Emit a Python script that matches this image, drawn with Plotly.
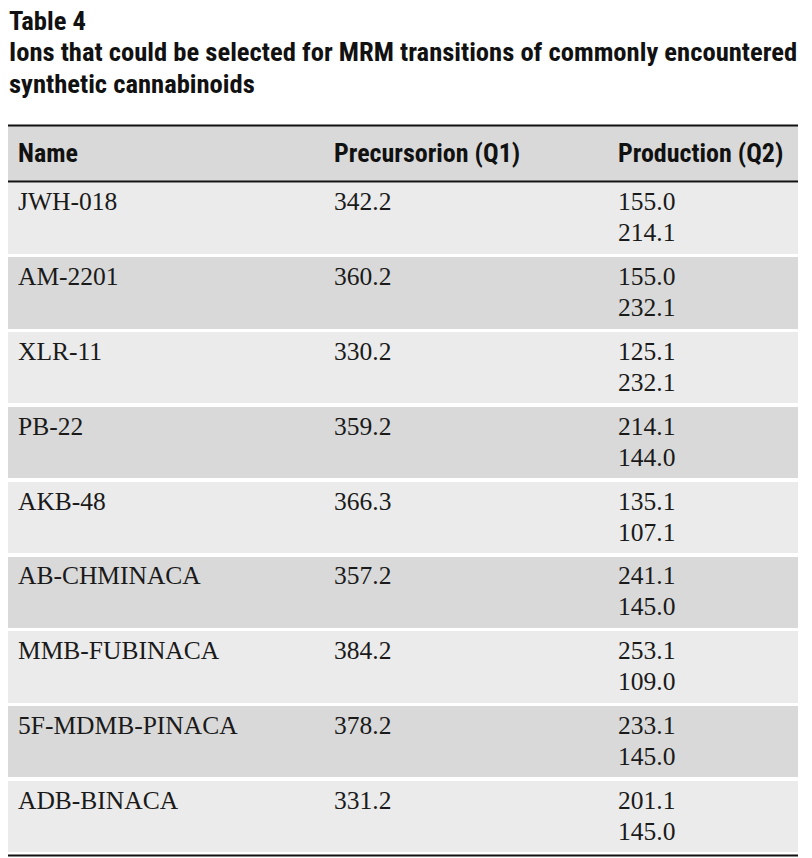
import plotly.graph_objects as go

# Table 4 data
names = ["JWH-018", "AM-2201", "XLR-11", "PB-22", "AKB-48",
         "AB-CHMINACA", "MMB-FUBINACA", "5F-MDMB-PINACA", "ADB-BINACA"]
precursor_q1 = [342.2, 360.2, 330.2, 359.2, 366.3, 357.2, 384.2, 378.2, 331.2]
product_q2_a = [155.0, 155.0, 125.1, 214.1, 135.1, 241.1, 253.1, 233.1, 201.1]
product_q2_b = [214.1, 232.1, 232.1, 144.0, 107.1, 145.0, 109.0, 145.0, 145.0]
headers = ["Name", "Precursorion (Q1)", "Production (Q2)"]
title_lines = ["Table 4",
               "Ions that could be selected for MRM transitions of commonly encountered",
               "synthetic cannabinoids"]

OFF = 8               # page body margin
W, H = 812 - OFF, 858 - OFF
row_top0 = 182.5      # pixel where first body row starts (page coords)
pitch = 74.8          # pixel height of one body row
col_x = [18, 334, 618]
tbl_left, tbl_right = OFF, 798

serif = "Liberation Serif"
narrow = "Roboto Condensed, Roboto, sans-serif"


def px2v(p):
    # page pixel row (from top) -> y axis value (row index units)
    return (p - row_top0) / pitch - 0.5


def px2x(p):
    return p - OFF


rows = list(range(len(names)))
fills = ["#ebebeb" if i % 2 == 0 else "#d9d9d9" for i in rows]

fig = go.Figure()

# row backgrounds
fig.add_trace(go.Bar(
    y=rows, x=[tbl_right - tbl_left] * len(rows), base=px2x(tbl_left),
    orientation="h", width=1 - 3.5 / pitch, offset=-0.5,
    marker=dict(color=fills, line=dict(width=0)),
    hoverinfo="skip", showlegend=False))

first = [i - 0.5 + 21.5 / pitch for i in rows]
second = [i - 0.5 + 52.5 / pitch for i in rows]
body_font = dict(family=serif, size=25.5, color="#1a1a1a")

fig.add_trace(go.Scatter(
    x=[px2x(col_x[0])] * len(rows), y=first, text=names, mode="text",
    textposition="middle right", textfont=body_font,
    hoverinfo="skip", showlegend=False))
fig.add_trace(go.Scatter(
    x=[px2x(col_x[1])] * len(rows), y=first, text=[f"{v:.1f}" for v in precursor_q1],
    mode="text", textposition="middle right", textfont=body_font,
    hoverinfo="skip", showlegend=False))
fig.add_trace(go.Scatter(
    x=[px2x(col_x[2])] * len(rows) * 2, y=first + second,
    text=[f"{v:.1f}" for v in product_q2_a] + [f"{v:.1f}" for v in product_q2_b],
    mode="text", textposition="middle right", textfont=body_font,
    hoverinfo="skip", showlegend=False))

# header
hdr_top, hdr_bot = 125.5, 181.5
fig.add_shape(type="rect", xref="x", yref="y", x0=px2x(tbl_left), x1=px2x(tbl_right),
              y0=px2v(hdr_top), y1=px2v(hdr_bot), fillcolor="#d9d9d9",
              line=dict(width=0), layer="below")
fig.add_trace(go.Scatter(
    x=[px2x(c) for c in col_x], y=[px2v(155)] * 3, text=headers, mode="text",
    textposition="middle right",
    textfont=dict(family=narrow, size=26, color="#111111", weight="bold"),
    hoverinfo="skip", showlegend=False))

for p in [hdr_top, hdr_bot, 855.5]:
    fig.add_shape(type="line", xref="x", yref="y", x0=px2x(tbl_left), x1=px2x(tbl_right),
                  y0=px2v(p), y1=px2v(p), line=dict(color="#111111", width=2))

# title
for txt, p in zip(title_lines, [20, 51.5, 83.5]):
    fig.add_annotation(text=f"<b>{txt}</b>", xref="paper", yref="paper",
                       x=0, y=1 - (p - OFF) / H, xanchor="left",
                       yanchor="middle", showarrow=False, borderpad=0,
                       font=dict(family=narrow, size=26.6, color="#111111"))

fig.update_layout(
    width=W, height=H, margin=dict(l=0, r=0, t=0, b=0),
    paper_bgcolor="white", plot_bgcolor="white",
    xaxis=dict(range=[0, W], visible=False, fixedrange=True),
    yaxis=dict(range=[px2v(858), px2v(OFF)], visible=False, fixedrange=True),
    bargap=0,
)

fig.write_html("out.html")
